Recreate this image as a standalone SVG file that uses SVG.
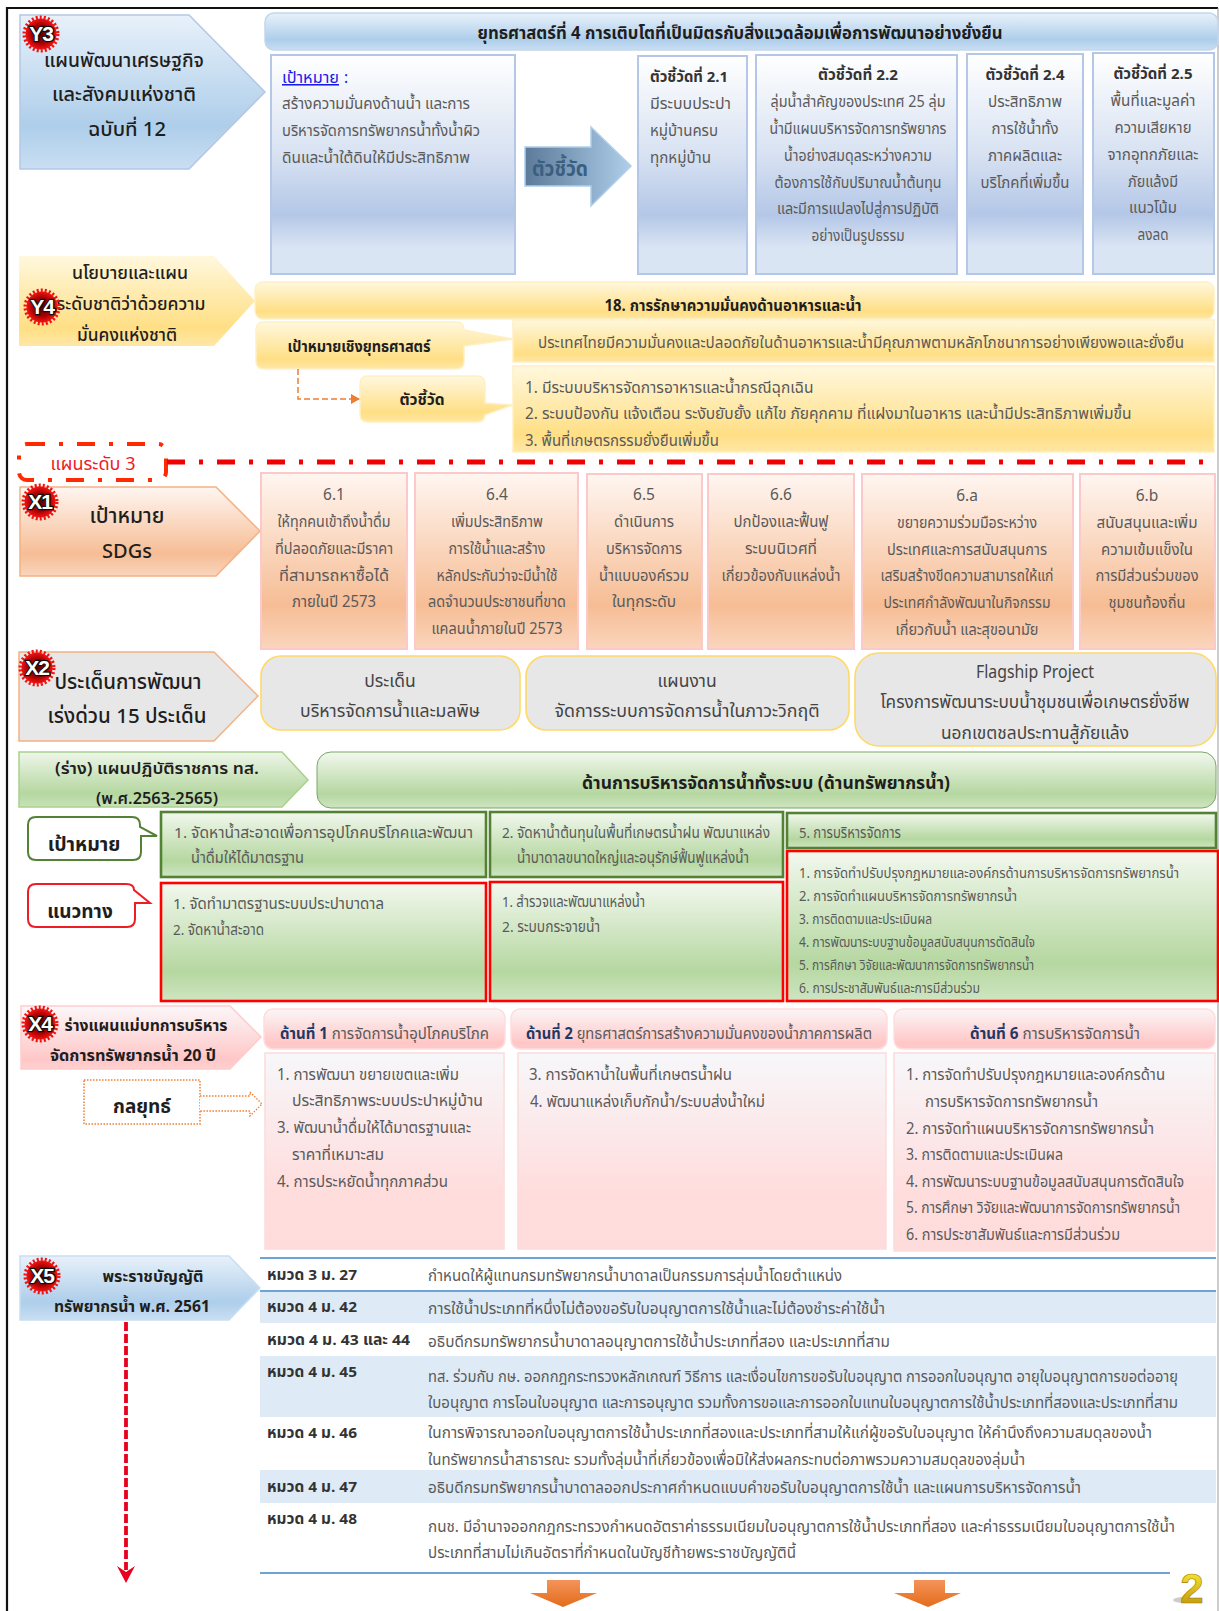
<svg xmlns="http://www.w3.org/2000/svg" width="1219" height="1611" viewBox="0 0 1219 1611">
<style>
text{font-family:"Noto Sans Thai","Noto Sans Thai UI","Tahoma","DejaVu Sans","Noto Sans",sans-serif;fill:#5a5a5a;font-size:15.5px}
.m{text-anchor:middle}
.b{font-weight:bold;fill:#1e1e1e}
.h{font-size:19px;font-weight:500;fill:#1e1e1e}
.t{font-size:17px;font-weight:bold;fill:#1e1e1e}
.s{font-size:15px}
.s2{font-size:14px}
.k{font-weight:bold;fill:#333;font-size:15px}
.q{font-size:17.5px;fill:#444}
.bd{font-family:"Liberation Sans",sans-serif;font-weight:bold;font-size:21px;fill:#fff;stroke:#111;stroke-width:2.5px;paint-order:stroke;text-anchor:middle;letter-spacing:-1px}
.blue{stroke:#b4c7e7;stroke-width:2;fill:url(#gBox)}
.pink{stroke:#fbc9c9;stroke-width:2;fill:url(#gOr)}
.grey{fill:#e7e7e7;stroke:#ffd966;stroke-width:1.6}
.grn{fill:url(#gGr);stroke-width:2.6}
.rose{fill:url(#gRb);stroke:#fcdcdc;stroke-width:1.5}
.rh{fill:url(#gRh);stroke:#fdd;stroke-width:1.5}
.y{fill:url(#gYe);stroke:#fff0c4;stroke-width:1.5}
.band{fill:#deebf7}
.tl{stroke:#6ea3d8;stroke-width:2.2;fill:none}
.nv{font-weight:bold;fill:#1f3864}
</style>
<defs>
<linearGradient id="gBl" x1="0" y1="0" x2="0" y2="1"><stop offset="0" stop-color="#e8f1fa"/><stop offset=".72" stop-color="#aeceea"/><stop offset="1" stop-color="#c9def2"/></linearGradient>
<linearGradient id="gBox" x1="0" y1="0" x2="0" y2="1"><stop offset="0" stop-color="#fff"/><stop offset=".45" stop-color="#d8e2f2"/><stop offset=".73" stop-color="#b4c7e7"/><stop offset=".88" stop-color="#dae5f4"/><stop offset="1" stop-color="#dae5f4"/></linearGradient>
<linearGradient id="gAr" x1="0" y1="0" x2="1" y2="0"><stop offset="0" stop-color="#5c7a99"/><stop offset="1" stop-color="#aeceea"/></linearGradient>
<linearGradient id="gYe" x1="0" y1="0" x2="0" y2="1"><stop offset="0" stop-color="#fff8de"/><stop offset=".8" stop-color="#ffdf85"/><stop offset="1" stop-color="#ffe7a6"/></linearGradient>
<linearGradient id="gOr" x1="0" y1="0" x2="0" y2="1"><stop offset="0" stop-color="#fff6f1"/><stop offset=".75" stop-color="#f6bd95"/><stop offset="1" stop-color="#fad5bd"/></linearGradient>
<linearGradient id="gGp" x1="0" y1="0" x2="0" y2="1"><stop offset="0" stop-color="#eef6e9"/><stop offset=".75" stop-color="#b5d7a0"/><stop offset="1" stop-color="#c8e2b8"/></linearGradient>
<linearGradient id="gGr" x1="0" y1="0" x2="0" y2="1"><stop offset="0" stop-color="#f2f8ee"/><stop offset=".75" stop-color="#b5d7a0"/><stop offset="1" stop-color="#cfe5c1"/></linearGradient>
<linearGradient id="gRp" x1="0" y1="0" x2="0" y2="1"><stop offset="0" stop-color="#fbf7f9"/><stop offset=".85" stop-color="#ffc7c7"/><stop offset="1" stop-color="#ffd0d0"/></linearGradient>
<linearGradient id="gRh" x1="0" y1="0" x2="0" y2="1"><stop offset="0" stop-color="#fbf6f7"/><stop offset=".85" stop-color="#ffc7c7"/><stop offset="1" stop-color="#ffc9c9"/></linearGradient>
<linearGradient id="gRb" x1="0" y1="0" x2="0" y2="1"><stop offset="0" stop-color="#f7f7fa"/><stop offset=".7" stop-color="#ffdddd"/><stop offset="1" stop-color="#ffdcdc"/></linearGradient>
<linearGradient id="gOa" x1="0" y1="0" x2="0" y2="1"><stop offset="0" stop-color="#f4935a"/><stop offset="1" stop-color="#e36c1a"/></linearGradient>
<linearGradient id="gGd" x1="0" y1="0" x2="0" y2="1"><stop offset="0" stop-color="#fff43a"/><stop offset="1" stop-color="#b88a08"/></linearGradient>
<radialGradient id="gBd"><stop offset="0" stop-color="#5a0000"/><stop offset=".6" stop-color="#a80000"/><stop offset="1" stop-color="#f01414"/></radialGradient>
<marker id="mOr" markerWidth="10" markerHeight="10" refX="8" refY="5" orient="auto" markerUnits="userSpaceOnUse"><path d="M0 0L9 5L0 10Z" fill="#ed7d31"/></marker>
<g id="badge"><circle r="16.5" fill="none" stroke="#f01414" stroke-width="4" stroke-dasharray="2 2"/><circle r="15.5" fill="url(#gBd)"/></g>
</defs>

<g id="frame"><path d="M7 1611V8H1218" fill="none" stroke="#111" stroke-width="2.2"/><path d="M1218 8V1611" fill="none" stroke="#999" stroke-width="1"/></g>

<g id="y3">
<path d="M20 15H189L265 92L189 169H20Z" fill="url(#gBl)" stroke="#b4c7e7" stroke-width="1.5"/>
<text class="h m" x="124" y="67" textLength="160" lengthAdjust="spacingAndGlyphs">แผนพัฒนาเศรษฐกิจ</text><text class="h m" x="124" y="101" textLength="144" lengthAdjust="spacingAndGlyphs">และสังคมแห่งชาติ</text><text class="h m" x="127" y="136" textLength="78" lengthAdjust="spacingAndGlyphs">ฉบับที่ 12</text>
<use href="#badge" x="41" y="34"/><text class="bd" x="41" y="41">Y3</text>
</g>
<g id="y3-title"><rect x="265" y="13" width="953" height="37" rx="9" fill="url(#gBl)" stroke="#c3d6ec" stroke-width="1.5"/><text class="t m" x="740" y="39" textLength="525" lengthAdjust="spacingAndGlyphs">ยุทธศาสตร์ที่ 4 การเติบโตที่เป็นมิตรกับสิ่งแวดล้อมเพื่อการพัฒนาอย่างยั่งยืน</text></g>
<g id="y3-goal"><rect class="blue" x="271" y="55" width="244" height="219"/>
<text x="282" y="83" textLength="57" lengthAdjust="spacingAndGlyphs" style="fill:#1a1ae6;text-decoration:underline">เป้าหมาย</text><text x="344" y="83" style="fill:#1a1ae6">:</text>
<text x="282" y="109" textLength="188" lengthAdjust="spacingAndGlyphs">สร้างความมั่นคงด้านน้ำ และการ</text><text x="282" y="136" textLength="198" lengthAdjust="spacingAndGlyphs">บริหารจัดการทรัพยากรน้ำทั้งน้ำผิว</text><text x="282" y="163" textLength="188" lengthAdjust="spacingAndGlyphs">ดินและน้ำใต้ดินให้มีประสิทธิภาพ</text></g>
<g id="y3-arrow"><path d="M525 147H591V127L631 166L591 206V186H525Z" fill="url(#gAr)" stroke="#aeceea" stroke-width="1.5"/><text x="532" y="176" textLength="56" lengthAdjust="spacingAndGlyphs" style="font-size:21px;font-weight:bold;fill:#3c5f80">ตัวชี้วัด</text></g>
<g id="kpi21"><rect class="blue" x="638" y="56" width="109" height="218"/><text class="k" x="650" y="82" textLength="78" lengthAdjust="spacingAndGlyphs">ตัวชี้วัดที่ 2.1</text><text x="650" y="109" textLength="81" lengthAdjust="spacingAndGlyphs">มีระบบประปา</text><text x="650" y="136" textLength="68" lengthAdjust="spacingAndGlyphs">หมู่บ้านครบ</text><text x="650" y="163" textLength="61" lengthAdjust="spacingAndGlyphs">ทุกหมู่บ้าน</text></g>
<g id="kpi22"><rect class="blue" x="756" y="55" width="201" height="219"/><text class="k m" x="858" y="80" textLength="80" lengthAdjust="spacingAndGlyphs">ตัวชี้วัดที่ 2.2</text>
<text class="m" x="858" y="107" textLength="175" lengthAdjust="spacingAndGlyphs">ลุ่มน้ำสำคัญของประเทศ 25 ลุ่ม</text><text class="m" x="858" y="134" textLength="177" lengthAdjust="spacingAndGlyphs">น้ำมีแผนบริหารจัดการทรัพยากร</text><text class="m" x="858" y="161" textLength="148" lengthAdjust="spacingAndGlyphs">น้ำอย่างสมดุลระหว่างความ</text><text class="m" x="858" y="188" textLength="167" lengthAdjust="spacingAndGlyphs">ต้องการใช้กับปริมาณน้ำต้นทุน</text><text class="m" x="858" y="214" textLength="162" lengthAdjust="spacingAndGlyphs">และมีการแปลงไปสู่การปฏิบัติ</text><text class="m" x="858" y="241" textLength="93" lengthAdjust="spacingAndGlyphs">อย่างเป็นรูปธรรม</text></g>
<g id="kpi24"><rect class="blue" x="967" y="54" width="116" height="220"/><text class="k m" x="1025" y="80" textLength="79" lengthAdjust="spacingAndGlyphs">ตัวชี้วัดที่ 2.4</text>
<text class="m" x="1025" y="107" textLength="74" lengthAdjust="spacingAndGlyphs">ประสิทธิภาพ</text><text class="m" x="1025" y="134" textLength="67" lengthAdjust="spacingAndGlyphs">การใช้น้ำทั้ง</text><text class="m" x="1025" y="161" textLength="74" lengthAdjust="spacingAndGlyphs">ภาคผลิตและ</text><text class="m" x="1025" y="188" textLength="89" lengthAdjust="spacingAndGlyphs">บริโภคที่เพิ่มขึ้น</text></g>
<g id="kpi25"><rect class="blue" x="1093" y="53" width="121" height="221"/><text class="k m" x="1153" y="79" textLength="79" lengthAdjust="spacingAndGlyphs">ตัวชี้วัดที่ 2.5</text>
<text class="m" x="1153" y="106" textLength="85" lengthAdjust="spacingAndGlyphs">พื้นที่และมูลค่า</text><text class="m" x="1153" y="133" textLength="77" lengthAdjust="spacingAndGlyphs">ความเสียหาย</text><text class="m" x="1153" y="160" textLength="91" lengthAdjust="spacingAndGlyphs">จากอุทกภัยและ</text><text class="m" x="1153" y="187" textLength="50" lengthAdjust="spacingAndGlyphs">ภัยแล้งมี</text><text class="m" x="1153" y="213" textLength="48" lengthAdjust="spacingAndGlyphs">แนวโน้ม</text><text class="m" x="1153" y="240" textLength="31" lengthAdjust="spacingAndGlyphs">ลงลด</text></g>

<g id="y4"><path d="M19 256H214L255 301L214 346H19Z" fill="url(#gYe)"/>
<text class="h m" x="130" y="279" style="font-size:17.5px" textLength="116" lengthAdjust="spacingAndGlyphs">นโยบายและแผน</text><text class="h m" x="131" y="310" style="font-size:17.5px" textLength="149" lengthAdjust="spacingAndGlyphs">ระดับชาติว่าด้วยความ</text><text class="h m" x="127" y="341" style="font-size:17.5px" textLength="100" lengthAdjust="spacingAndGlyphs">มั่นคงแห่งชาติ</text>
<use href="#badge" x="42" y="307"/><text class="bd" x="42" y="314">Y4</text></g>
<g id="y4-title"><rect class="y" x="255" y="282" width="959" height="37" rx="8"/><text class="m b" x="733" y="311" textLength="257" lengthAdjust="spacingAndGlyphs">18. การรักษาความมั่นคงด้านอาหารและน้ำ</text></g>
<g id="y4-goal-text"><rect class="y" x="513" y="320" width="701" height="42"/><text class="m" x="861" y="348" textLength="646" lengthAdjust="spacingAndGlyphs">ประเทศไทยมีความมั่นคงและปลอดภัยในด้านอาหารและน้ำมีคุณภาพตามหลักโภชนาการอย่างเพียงพอและยั่งยืน</text></g>
<g id="y4-goal"><path d="M264 322H456Q464 322 464 330V330L513 339L464 346V361Q464 369 456 369H264Q256 369 256 361V330Q256 322 264 322Z" class="y"/><text class="m b" x="359" y="352" textLength="143" lengthAdjust="spacingAndGlyphs">เป้าหมายเชิงยุทธศาสตร์</text></g>
<g id="y4-kpi-text"><rect class="y" x="513" y="366" width="701" height="86"/><text x="525" y="393">1.  มีระบบบริหารจัดการอาหารและน้ำกรณีฉุกเฉิน</text><text x="525" y="419">2.  ระบบป้องกัน แจ้งเตือน ระงับยับยั้ง แก้ไข ภัยคุกคาม ที่แฝงมาในอาหาร และน้ำมีประสิทธิภาพเพิ่มขึ้น</text><text x="525" y="446" textLength="194" lengthAdjust="spacingAndGlyphs">3.  พื้นที่เกษตรกรรมยั่งยืนเพิ่มขึ้น</text></g>
<g id="y4-kpi"><path d="M368 376H477Q485 376 485 384V403L513 405L485 415V414Q485 422 477 422H368Q360 422 360 414V384Q360 376 368 376Z" class="y"/><text class="m b" x="422" y="405">ตัวชี้วัด</text></g>

<g id="plan3"><rect x="19" y="444" width="147" height="36" rx="8" fill="none" stroke="#ff2a00" stroke-width="4" stroke-dasharray="18 14 4 14"/><text class="m" x="93" y="470" style="fill:#ee1c25;font-size:18px" textLength="85" lengthAdjust="spacingAndGlyphs">แผนระดับ 3</text></g>

<g id="x1"><path d="M20 487H216L260 531L216 576H20Z" fill="url(#gOr)" stroke="#f4b183" stroke-width="1.5"/>
<text class="h m" x="127" y="523" style="font-size:21px">เป้าหมาย</text><text class="h m" x="127" y="558" style="font-size:20px">SDGs</text>
<use href="#badge" x="40" y="502"/><text class="bd" x="40" y="509">X1</text></g>
<g id="sdg61"><rect class="pink" x="261" y="473" width="146" height="176"/><text class="m" x="334" y="500">6.1</text><text class="m" x="334" y="527" textLength="113" lengthAdjust="spacingAndGlyphs">ให้ทุกคนเข้าถึงน้ำดื่ม</text><text class="m" x="334" y="554" textLength="118" lengthAdjust="spacingAndGlyphs">ที่ปลอดภัยและมีราคา</text><text class="m" x="334" y="581" textLength="110" lengthAdjust="spacingAndGlyphs">ที่สามารถหาซื้อได้</text><text class="m" x="334" y="607" textLength="84" lengthAdjust="spacingAndGlyphs">ภายในปี 2573</text></g>
<g id="sdg64"><rect class="pink" x="415" y="473" width="163" height="176"/><text class="m" x="497" y="500">6.4</text><text class="m" x="497" y="527" textLength="92" lengthAdjust="spacingAndGlyphs">เพิ่มประสิทธิภาพ</text><text class="m" x="497" y="554" textLength="97" lengthAdjust="spacingAndGlyphs">การใช้น้ำและสร้าง</text><text class="m" x="497" y="581" textLength="121" lengthAdjust="spacingAndGlyphs">หลักประกันว่าจะมีน้ำใช้</text><text class="m" x="497" y="607" textLength="138" lengthAdjust="spacingAndGlyphs">ลดจำนวนประชาชนที่ขาด</text><text class="m" x="497" y="634" textLength="131" lengthAdjust="spacingAndGlyphs">แคลนน้ำภายในปี 2573</text></g>
<g id="sdg65"><rect class="pink" x="587" y="474" width="115" height="175"/><text class="m" x="644" y="500">6.5</text><text class="m" x="644" y="527" textLength="60" lengthAdjust="spacingAndGlyphs">ดำเนินการ</text><text class="m" x="644" y="554" textLength="76" lengthAdjust="spacingAndGlyphs">บริหารจัดการ</text><text class="m" x="644" y="581" textLength="90" lengthAdjust="spacingAndGlyphs">น้ำแบบองค์รวม</text><text class="m" x="644" y="607" textLength="64" lengthAdjust="spacingAndGlyphs">ในทุกระดับ</text></g>
<g id="sdg66"><rect class="pink" x="708" y="474" width="146" height="175"/><text class="m" x="781" y="500">6.6</text><text class="m" x="781" y="527" textLength="95" lengthAdjust="spacingAndGlyphs">ปกป้องและฟื้นฟู</text><text class="m" x="781" y="554" textLength="72" lengthAdjust="spacingAndGlyphs">ระบบนิเวศที่</text><text class="m" x="781" y="581" textLength="119" lengthAdjust="spacingAndGlyphs">เกี่ยวข้องกับแหล่งน้ำ</text></g>
<g id="sdg6a"><rect class="pink" x="862" y="474" width="211" height="175"/><text class="m" x="967" y="501">6.a</text><text class="m" x="967" y="528" textLength="140" lengthAdjust="spacingAndGlyphs">ขยายความร่วมมือระหว่าง</text><text class="m" x="967" y="555" textLength="160" lengthAdjust="spacingAndGlyphs">ประเทศและการสนับสนุนการ</text><text class="m" x="967" y="581" textLength="173" lengthAdjust="spacingAndGlyphs">เสริมสร้างขีดความสามารถให้แก่</text><text class="m" x="967" y="608" textLength="167" lengthAdjust="spacingAndGlyphs">ประเทศกำลังพัฒนาในกิจกรรม</text><text class="m" x="967" y="635" textLength="143" lengthAdjust="spacingAndGlyphs">เกี่ยวกับน้ำ และสุขอนามัย</text></g>
<g id="sdg6b"><rect class="pink" x="1080" y="474" width="135" height="175"/><text class="m" x="1147" y="501">6.b</text><text class="m" x="1147" y="528" textLength="101" lengthAdjust="spacingAndGlyphs">สนับสนุนและเพิ่ม</text><text class="m" x="1147" y="555" textLength="92" lengthAdjust="spacingAndGlyphs">ความเข้มแข็งใน</text><text class="m" x="1147" y="581" textLength="103" lengthAdjust="spacingAndGlyphs">การมีส่วนร่วมของ</text><text class="m" x="1147" y="608" textLength="77" lengthAdjust="spacingAndGlyphs">ชุมชนท้องถิ่น</text></g>

<g id="x2"><path d="M19 652H214L258 696L214 741H19Z" fill="#e7e7e7" stroke="#f4b183" stroke-width="1.5"/>
<text class="h m" x="128" y="689" style="font-size:20.5px">ประเด็นการพัฒนา</text><text class="h m" x="127" y="723" style="font-size:20.5px">เร่งด่วน 15 ประเด็น</text>
<use href="#badge" x="37" y="668"/><text class="bd" x="37" y="675">X2</text></g>
<g id="p1"><rect class="grey" x="261" y="656" width="259" height="74" rx="20"/><text class="m q" x="390" y="687">ประเด็น</text><text class="m q" x="390" y="717" textLength="180" lengthAdjust="spacingAndGlyphs">บริหารจัดการน้ำและมลพิษ</text></g>
<g id="p2"><rect class="grey" x="526" y="656" width="323" height="74" rx="20"/><text class="m q" x="687" y="687">แผนงาน</text><text class="m q" x="687" y="717" textLength="265" lengthAdjust="spacingAndGlyphs">จัดการระบบการจัดการน้ำในภาวะวิกฤติ</text></g>
<g id="p3"><rect class="grey" x="855" y="653" width="361" height="93" rx="24"/><text class="m q" x="1035" y="678" textLength="118" lengthAdjust="spacingAndGlyphs">Flagship Project</text><text class="m q" x="1035" y="708" textLength="309" lengthAdjust="spacingAndGlyphs">โครงการพัฒนาระบบน้ำชุมชนเพื่อเกษตรยั่งชีพ</text><text class="m q" x="1035" y="739" textLength="188" lengthAdjust="spacingAndGlyphs">นอกเขตชลประทานสู้ภัยแล้ง</text></g>

<g id="g-plan"><path d="M19 752H282L308 780L282 807H19Z" fill="url(#gGp)" stroke="#a9d18e" stroke-width="1.5"/><text class="m b" x="157" y="774" style="font-size:16.5px;font-weight:600" textLength="204" lengthAdjust="spacingAndGlyphs">(ร่าง) แผนปฏิบัติราชการ ทส.</text><text class="m b" x="157" y="804" style="font-size:16.5px;font-weight:600" textLength="122" lengthAdjust="spacingAndGlyphs">(พ.ศ.2563-2565)</text></g>
<g id="g-title"><rect x="317" y="752" width="899" height="56" rx="14" fill="url(#gGr)" stroke="#7aa766" stroke-width="1"/><text class="m t" x="766" y="789" textLength="368" lengthAdjust="spacingAndGlyphs">ด้านการบริหารจัดการน้ำทั้งระบบ (ด้านทรัพยากรน้ำ)</text></g>
<g id="g-goal"><path d="M36 817H132Q140 817 140 825V827L157 836H141V852Q141 860 133 860H36Q28 860 28 852V825Q28 817 36 817Z" fill="#fff" stroke="#548235" stroke-width="2"/><text class="m b" x="84" y="851" style="font-size:19.5px">เป้าหมาย</text></g>
<g id="g-way"><path d="M36 884H126Q134 884 134 890L150 903H135V919Q135 927 127 927H36Q28 927 28 919V892Q28 884 36 884Z" fill="#fff" stroke="#ee1c25" stroke-width="2"/><text class="m b" x="80" y="918" style="font-size:19px">แนวทาง</text></g>
<g id="ga1"><rect class="grn" x="161" y="812" width="325" height="65" stroke="#548235"/><text class="s" x="174" y="838" textLength="299" lengthAdjust="spacingAndGlyphs">1. จัดหาน้ำสะอาดเพื่อการอุปโภคบริโภคและพัฒนา</text><text class="s" x="191" y="863" textLength="113" lengthAdjust="spacingAndGlyphs">น้ำดื่มให้ได้มาตรฐาน</text></g>
<g id="gb1"><rect class="grn" x="490" y="812" width="293" height="65" stroke="#548235"/><text class="s" x="502" y="838" textLength="268" lengthAdjust="spacingAndGlyphs">2. จัดหาน้ำต้นทุนในพื้นที่เกษตรน้ำฝน พัฒนาแหล่ง</text><text class="s" x="517" y="863" textLength="232" lengthAdjust="spacingAndGlyphs">น้ำบาดาลขนาดใหญ่และอนุรักษ์ฟื้นฟูแหล่งน้ำ</text></g>
<g id="gc1"><rect class="grn" x="787" y="813" width="429" height="35" stroke="#548235"/><text class="s" x="799" y="838" textLength="102" lengthAdjust="spacingAndGlyphs">5. การบริหารจัดการ</text></g>
<g id="ga2"><rect class="grn" x="161" y="883" width="325" height="118" stroke="#ff0000"/><text class="s" x="173" y="909" textLength="211" lengthAdjust="spacingAndGlyphs">1. จัดทำมาตรฐานระบบประปาบาดาล</text><text class="s" x="173" y="935" textLength="91" lengthAdjust="spacingAndGlyphs">2. จัดหาน้ำสะอาด</text></g>
<g id="gb2"><rect class="grn" x="490" y="882" width="293" height="119" stroke="#ff0000"/><text class="s" x="502" y="907" textLength="143" lengthAdjust="spacingAndGlyphs">1. สำรวจและพัฒนาแหล่งน้ำ</text><text class="s" x="502" y="932" textLength="98" lengthAdjust="spacingAndGlyphs">2. ระบบกระจายน้ำ</text></g>
<g id="gc2"><rect class="grn" x="787" y="851" width="431" height="150" stroke="#ff0000"/>
<text class="s2" x="799" y="878" textLength="380" lengthAdjust="spacingAndGlyphs">1. การจัดทำปรับปรุงกฎหมายและองค์กรด้านการบริหารจัดการทรัพยากรน้ำ</text><text class="s2" x="799" y="901" textLength="218" lengthAdjust="spacingAndGlyphs">2. การจัดทำแผนบริหารจัดการทรัพยากรน้ำ</text><text class="s2" x="799" y="924" textLength="133" lengthAdjust="spacingAndGlyphs">3. การติดตามและประเมินผล</text><text class="s2" x="799" y="947" textLength="236" lengthAdjust="spacingAndGlyphs">4. การพัฒนาระบบฐานข้อมูลสนับสนุนการตัดสินใจ</text><text class="s2" x="799" y="970" textLength="235" lengthAdjust="spacingAndGlyphs">5. การศึกษา วิจัยและพัฒนาการจัดการทรัพยากรน้ำ</text><text class="s2" x="799" y="993" textLength="181" lengthAdjust="spacingAndGlyphs">6. การประชาสัมพันธ์และการมีส่วนร่วม</text></g>

<g id="x4"><path d="M21 1006H230L261 1037L230 1069H21Z" fill="url(#gRp)" stroke="#fcc" stroke-width="1.5"/>
<text class="m b" x="146" y="1031" style="font-size:16.5px" textLength="163" lengthAdjust="spacingAndGlyphs">ร่างแผนแม่บทการบริหาร</text><text class="m b" x="133" y="1061" style="font-size:16.5px" textLength="166" lengthAdjust="spacingAndGlyphs">จัดการทรัพยากรน้ำ 20 ปี</text>
<use href="#badge" x="40" y="1024"/><text class="bd" x="40" y="1031">X4</text></g>
<g id="strategy"><rect x="84" y="1080" width="116" height="44" fill="#fff" stroke="#ed7d31" stroke-width="1.5" stroke-dasharray="1.5 1.5"/><text class="m b" x="142" y="1113" style="font-size:19px">กลยุทธ์</text></g>
<g id="h1"><rect class="rh" x="264" y="1009" width="241" height="40" rx="9"/><text x="280" y="1039" textLength="209" lengthAdjust="spacingAndGlyphs"><tspan class="nv">ด้านที่ 1</tspan> การจัดการน้ำอุปโภคบริโภค</text></g>
<g id="h2"><rect class="rh" x="511" y="1009" width="376" height="40" rx="9"/><text x="526" y="1039" textLength="346" lengthAdjust="spacingAndGlyphs"><tspan class="nv">ด้านที่ 2</tspan>  ยุทธศาสตร์การสร้างความมั่นคงของน้ำภาคการผลิต</text></g>
<g id="h3"><rect class="rh" x="894" y="1009" width="321" height="40" rx="9"/><text class="m" x="1055" y="1039" textLength="170" lengthAdjust="spacingAndGlyphs"><tspan class="nv">ด้านที่ 6</tspan> การบริหารจัดการน้ำ</text></g>
<g id="b1"><rect class="rose" x="265" y="1053" width="239" height="196"/><text x="277" y="1080" textLength="182" lengthAdjust="spacingAndGlyphs">1. การพัฒนา ขยายเขตและเพิ่ม</text><text x="292" y="1106" textLength="191" lengthAdjust="spacingAndGlyphs">ประสิทธิภาพระบบประปาหมู่บ้าน</text><text x="277" y="1133" textLength="194" lengthAdjust="spacingAndGlyphs">3. พัฒนาน้ำดื่มให้ได้มาตรฐานและ</text><text x="292" y="1160" textLength="92" lengthAdjust="spacingAndGlyphs">ราคาที่เหมาะสม</text><text x="277" y="1187" textLength="171" lengthAdjust="spacingAndGlyphs">4. การประหยัดน้ำทุกภาคส่วน</text></g>
<g id="b2"><rect class="rose" x="518" y="1053" width="368" height="196"/><text x="529" y="1080" textLength="203" lengthAdjust="spacingAndGlyphs">3. การจัดหาน้ำในพื้นที่เกษตรน้ำฝน</text><text x="530" y="1107" textLength="235" lengthAdjust="spacingAndGlyphs">4. พัฒนาแหล่งเก็บกักน้ำ/ระบบส่งน้ำใหม่</text></g>
<g id="b3"><rect class="rose" x="894" y="1053" width="321" height="198"/><text x="906" y="1080" textLength="259" lengthAdjust="spacingAndGlyphs">1. การจัดทำปรับปรุงกฎหมายและองค์กรด้าน</text><text x="925" y="1107" textLength="173" lengthAdjust="spacingAndGlyphs">การบริหารจัดการทรัพยากรน้ำ</text><text x="906" y="1134" textLength="248" lengthAdjust="spacingAndGlyphs">2. การจัดทำแผนบริหารจัดการทรัพยากรน้ำ</text><text x="906" y="1160" textLength="157" lengthAdjust="spacingAndGlyphs">3. การติดตามและประเมินผล</text><text x="906" y="1187" textLength="278" lengthAdjust="spacingAndGlyphs">4. การพัฒนาระบบฐานข้อมูลสนับสนุนการตัดสินใจ</text><text x="906" y="1213" textLength="274" lengthAdjust="spacingAndGlyphs">5. การศึกษา วิจัยและพัฒนาการจัดการทรัพยากรน้ำ</text><text x="906" y="1240" textLength="214" lengthAdjust="spacingAndGlyphs">6. การประชาสัมพันธ์และการมีส่วนร่วม</text></g>

<g id="x5"><path d="M20 1256H229L260 1288L229 1320H20Z" fill="url(#gBl)" stroke="#c9def2" stroke-width="1.5"/>
<text class="m b" x="153" y="1282" style="font-size:16.5px" textLength="101" lengthAdjust="spacingAndGlyphs">พระราชบัญญัติ</text><text class="m b" x="132" y="1312" style="font-size:16.5px" textLength="156" lengthAdjust="spacingAndGlyphs">ทรัพยากรน้ำ พ.ศ. 2561</text>
<use href="#badge" x="42" y="1276"/><text class="bd" x="42" y="1283">X5</text></g>

<g id="act-table">
<rect class="band" x="260" y="1292" width="956" height="31"/><rect class="band" x="260" y="1356" width="956" height="61"/><rect class="band" x="260" y="1470" width="956" height="33"/>
<path class="tl" d="M260 1258H1216M260 1291H1216M260 1573H1170"/>
<text class="k" x="267" y="1280" textLength="90" lengthAdjust="spacingAndGlyphs">หมวด 3 ม. 27</text><text x="428" y="1281" textLength="414" lengthAdjust="spacingAndGlyphs">กำหนดให้ผู้แทนกรมทรัพยากรน้ำบาดาลเป็นกรรมการลุ่มน้ำโดยตำแหน่ง</text>
<text class="k" x="267" y="1312" textLength="90" lengthAdjust="spacingAndGlyphs">หมวด 4 ม. 42</text><text x="428" y="1314" textLength="457" lengthAdjust="spacingAndGlyphs">การใช้น้ำประเภทที่หนึ่งไม่ต้องขอรับใบอนุญาตการใช้น้ำและไม่ต้องชำระค่าใช้น้ำ</text>
<text class="k" x="267" y="1345" textLength="143" lengthAdjust="spacingAndGlyphs">หมวด 4 ม. 43 และ 44</text><text x="428" y="1347" textLength="462" lengthAdjust="spacingAndGlyphs">อธิบดีกรมทรัพยากรน้ำบาดาลอนุญาตการใช้น้ำประเภทที่สอง  และประเภทที่สาม</text>
<text class="k" x="267" y="1377" textLength="90" lengthAdjust="spacingAndGlyphs">หมวด 4 ม. 45</text><text x="428" y="1382" textLength="750" lengthAdjust="spacingAndGlyphs">ทส. ร่วมกับ กษ. ออกกฎกระทรวงหลักเกณฑ์ วิธีการ และเงื่อนไขการขอรับใบอนุญาต การออกใบอนุญาต อายุใบอนุญาตการขอต่ออายุ</text><text x="428" y="1408" textLength="750" lengthAdjust="spacingAndGlyphs">ใบอนุญาต  การโอนใบอนุญาต และการอนุญาต รวมทั้งการขอและการออกใบแทนใบอนุญาตการใช้น้ำประเภทที่สองและประเภทที่สาม</text>
<text class="k" x="267" y="1438" textLength="90" lengthAdjust="spacingAndGlyphs">หมวด 4 ม. 46</text><text x="428" y="1438" textLength="724" lengthAdjust="spacingAndGlyphs">ในการพิจารณาออกใบอนุญาตการใช้น้ำประเภทที่สองและประเภทที่สามให้แก่ผู้ขอรับใบอนุญาต  ให้คำนึงถึงความสมดุลของน้ำ</text><text x="428" y="1465" textLength="597" lengthAdjust="spacingAndGlyphs">ในทรัพยากรน้ำสาธารณะ  รวมทั้งลุ่มน้ำที่เกี่ยวข้องเพื่อมิให้ส่งผลกระทบต่อภาพรวมความสมดุลของลุ่มน้ำ</text>
<text class="k" x="267" y="1492" textLength="90" lengthAdjust="spacingAndGlyphs">หมวด 4 ม. 47</text><text x="428" y="1493" textLength="653" lengthAdjust="spacingAndGlyphs">อธิบดีกรมทรัพยากรน้ำบาดาลออกประกาศกำหนดแบบคำขอรับใบอนุญาตการใช้น้ำ  และแผนการบริหารจัดการน้ำ</text>
<text class="k" x="267" y="1524" textLength="90" lengthAdjust="spacingAndGlyphs">หมวด 4 ม. 48</text><text x="428" y="1532" textLength="747" lengthAdjust="spacingAndGlyphs">กนช. มีอำนาจออกกฎกระทรวงกำหนดอัตราค่าธรรมเนียมใบอนุญาตการใช้น้ำประเภทที่สอง  และค่าธรรมเนียมใบอนุญาตการใช้น้ำ</text><text x="428" y="1558" textLength="368" lengthAdjust="spacingAndGlyphs">ประเภทที่สามไม่เกินอัตราที่กำหนดในบัญชีท้ายพระราชบัญญัตินี้</text>
</g>

<g id="connectors">
<path d="M298 369V399H359" fill="none" stroke="#ed7d31" stroke-width="1.5" stroke-dasharray="6 3" marker-end="url(#mOr)"/>
<path d="M167 462H1216" fill="none" stroke="#f00000" stroke-width="5" stroke-dasharray="18 14 4 14"/>
<path d="M200 1096H250V1092L262 1104L250 1116V1111H200" fill="#fff" stroke="#ed7d31" stroke-width="1.3" stroke-dasharray="1.5 1.5"/>
<path d="M126 1322V1570" fill="none" stroke="#e8001c" stroke-width="3.8" stroke-dasharray="9 3"/>
<path d="M117 1566L126 1572L135 1566L126 1583Z" fill="#e8001c"/>
<path d="M547 1580H580V1593H597L563 1607L530 1593H547Z" fill="url(#gOa)"/>
<path d="M914 1580H945V1593H961L928 1607L894 1593H914Z" fill="url(#gOa)"/>
</g>
<g id="page"><ellipse cx="1183" cy="1600" rx="10" ry="3" fill="#ccc"/><text x="1192" y="1603" text-anchor="middle" style="font-family:'Liberation Sans',sans-serif;font-weight:bold;font-size:42px;fill:url(#gGd);stroke:#a67c00;stroke-width:.6px">2</text></g>
</svg>
